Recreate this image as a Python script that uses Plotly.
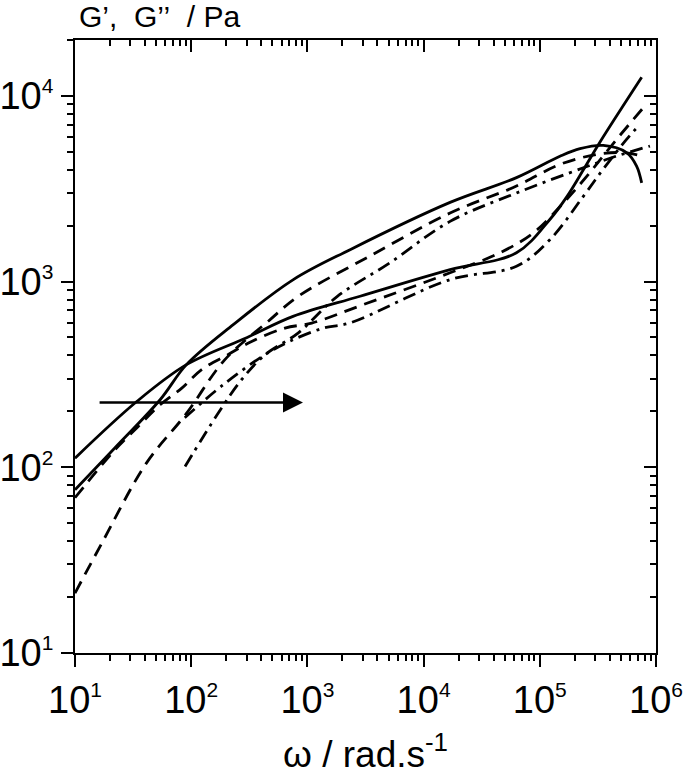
import numpy as np
import plotly.graph_objects as go

# ---------------- data ----------------
# sample 1 (solid)
w_p1 = [10, 22, 54, 91, 230, 757, 2330, 16900, 63000, 149000, 222000, 352000, 558000, 681000, 753000]
g_p1 = [75.7, 127, 231, 357, 586, 1025, 1486, 2670, 3630, 4730, 5200, 5410, 4950, 4190, 3400]
w_q1 = [10, 34, 91, 300, 752, 2840, 16900, 63000, 122000, 170000, 240000, 330000, 753000]
g_q1 = [112, 226, 357, 499, 650, 834, 1160, 1430, 2160, 2850, 4050, 5650, 12600]
# sample 2 (dashed)
w_p2 = [10, 17, 41, 91, 195, 461, 836, 3500, 16900, 63000, 148000, 310000, 525000, 728000]
g_p2 = [21, 39, 105, 195, 380, 612, 834, 1380, 2340, 3270, 4270, 4840, 4950, 4780]
w_q2 = [10, 22, 35, 54, 83, 123, 207, 331, 641, 1090, 3000, 16900, 45400, 88000, 170000, 270000, 458000, 778000]
g_q2 = [68.6, 124, 166, 217, 267, 336, 404, 476, 562, 598, 750, 1115, 1430, 1830, 2770, 3870, 5830, 8630]
# sample 3 (dash-dot)
w_p3 = [88.5, 171, 272, 431, 836, 1800, 5000, 16900, 63000, 237000, 457000, 887000]
g_p3 = [101, 196, 297, 403, 530, 830, 1250, 2110, 3000, 4100, 4740, 5370]
w_q3 = [88, 188, 431, 700, 1350, 2300, 16900, 63000, 122000, 237000, 350000, 558000, 728000]
g_q3 = [185, 278, 404, 476, 560, 598, 1025, 1210, 1680, 2880, 4020, 5830, 7020]

# arrow (tail, head) and axes
arrow_w = [15.8, 916]
arrow_g = 223
x_range = [10, 1e6]
y_range = [10, 2e4]
x_tickvals = [1e1, 1e2, 1e3, 1e4, 1e5, 1e6]
x_exps = ["1", "2", "3", "4", "5", "6"]
y_tickvals = [1e1, 1e2, 1e3, 1e4]
y_exps = ["1", "2", "3", "4"]
x_minor = [m * 10 ** d for d in range(1, 6) for m in range(2, 10)]
y_minor = [m * 10 ** d for d in range(1, 5) for m in range(2, 10) if m * 10 ** d <= 2e4]

FONT = "Liberation Sans, Arial, sans-serif"
SUP = "<sup><span style='font-size:21px'>{}</span></sup>"
x_ticktext = ["10" + SUP.format(e) for e in x_exps]
y_ticktext = ["10" + SUP.format(e) for e in y_exps]
NB = "\u00a0"
y_title = "G’," + NB * 2 + "G’’" + NB * 2 + "/" + NB + "Pa"
x_title = "ω / rad.s<sup>-1</sup>"
LW = 2.8
DASH = "13px,8px"
DASHDOT = "13px,6px,3px,6px"

fig = go.Figure()
series = [
    (w_p1, g_p1, "solid", "x", "y"),
    (w_q1, g_q1, "solid", "x2", "y2"),
    (w_p2, g_p2, DASH, "x", "y"),
    (w_q2, g_q2, DASH, "x", "y"),
    (w_p3, g_p3, DASHDOT, "x", "y"),
    (w_q3, g_q3, DASHDOT, "x", "y"),
]
for w, g, dash, xa, ya in series:
    fig.add_trace(go.Scatter(x=w, y=g, mode="lines", xaxis=xa, yaxis=ya, cliponaxis=False,
                             line=dict(color="black", width=LW, dash=dash, shape="spline", smoothing=1.0),
                             hoverinfo="skip", showlegend=False))

eps = 1e-4
lx = [np.log10(x_range[0]) - eps, np.log10(x_range[1]) + eps]
ly = [np.log10(y_range[0]) - eps, np.log10(y_range[1])]

common = dict(type="log", showgrid=False, zeroline=False, showline=True, linecolor="black",
              linewidth=2, tickcolor="black", tickwidth=2, ticklen=12, automargin=False,
              tickfont=dict(family=FONT, size=38, color="black"))

fig.update_layout(
    width=685, height=776,
    margin=dict(l=75, r=29, t=40, b=123, autoexpand=False),
    paper_bgcolor="white", plot_bgcolor="white",
    xaxis=dict(**common, range=lx, ticks="outside", tickmode="array",
               tickvals=x_tickvals, ticktext=x_ticktext,
               minor=dict(tickmode="array", tickvals=x_minor, ticks="outside", ticklen=6,
                          tickwidth=1.5, tickcolor="black", showgrid=False)),
    yaxis=dict(**common, range=ly, ticks="outside", tickmode="array",
               tickvals=y_tickvals, ticktext=y_ticktext,
               minor=dict(tickmode="array", tickvals=y_minor, ticks="outside", ticklen=6,
                          tickwidth=1.5, tickcolor="black", showgrid=False)),
    xaxis2=dict(**common, range=lx, overlaying="x", side="top", anchor="y2", ticks="inside",
                tickmode="array", tickvals=x_tickvals, showticklabels=False,
                minor=dict(tickmode="array", tickvals=x_minor, ticks="inside", ticklen=6,
                           tickwidth=1.5, tickcolor="black", showgrid=False)),
    yaxis2=dict(**common, range=ly, overlaying="y", side="right", anchor="x2", ticks="inside",
                tickmode="array", tickvals=y_tickvals, showticklabels=False,
                minor=dict(tickmode="array", tickvals=y_minor, ticks="inside", ticklen=6,
                           tickwidth=1.5, tickcolor="black", showgrid=False)),
)

# arrow
fig.add_annotation(x=np.log10(arrow_w[1]), y=np.log10(arrow_g), ax=np.log10(arrow_w[0]), ay=np.log10(arrow_g),
                   xref="x", yref="y", axref="x", ayref="y", text="", showarrow=True,
                   arrowhead=2, arrowsize=1.6, arrowwidth=2.5, arrowcolor="black", standoff=0)

# axis titles
fig.add_annotation(text=y_title, xref="paper", yref="paper", x=0.006, y=1.039,
                   xanchor="left", yanchor="middle", showarrow=False, borderpad=0,
                   font=dict(family=FONT, size=30, color="black"))
fig.add_annotation(text=x_title, xref="paper", yref="paper", x=0.5, y=-0.161,
                   xanchor="center", yanchor="middle", showarrow=False, borderpad=0,
                   font=dict(family=FONT, size=37, color="black"))

# remove the browser's default 8px body margin so the figure sits at the page origin
fig.write_html("out.html", config={"displayModeBar": False},
               post_script="document.body.style.margin='0px';")
